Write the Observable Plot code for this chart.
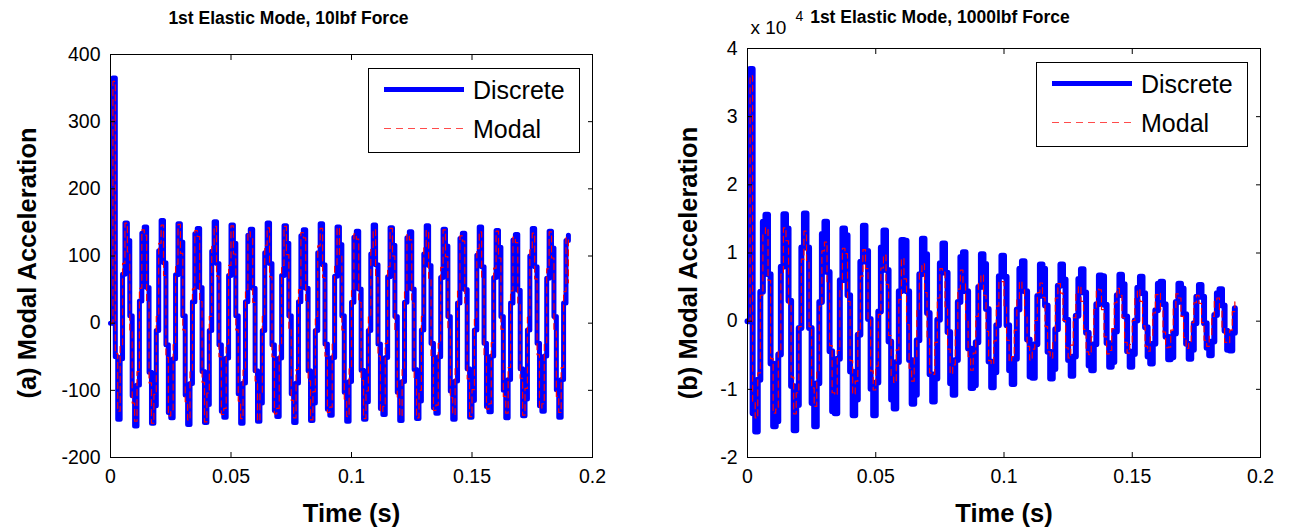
<!DOCTYPE html>
<html>
<head>
<meta charset="utf-8">
<script src="https://cdn.jsdelivr.net/npm/d3@7"></script>
<script src="https://cdn.jsdelivr.net/npm/@observablehq/plot@0.6"></script>
<style>
  html, body { margin: 0; padding: 0; background: #fff; }
  #chart { position: relative; width: 1291px; height: 531px; overflow: hidden; background: #fff; }
  .panel { position: absolute; top: 0; }
  .legend { position: absolute; background: #fff; border: 1px solid #000; box-sizing: border-box; }
  .legend svg { display: block; }
</style>
</head>
<body>
<div id="chart"></div>
<script>
// ---- data (sample step of the simulation output, seconds) ----
const timeStep = 0.001;

const xTicks = [0, 0.05, 0.1, 0.15, 0.2];
const yTicksA = [-200, -100, 0, 100, 200, 300, 400];
const yTicksB = [-2, -1, 0, 1, 2, 3, 4];

const titleA = "1st Elastic Mode, 10lbf Force";
const titleB = "1st Elastic Mode, 1000lbf Force";
const ylabelA = "(a) Modal Acceleration";
const ylabelB = "(b) Modal Acceleration";
const xlabel = "Time (s)";
const seriesNames = ["Discrete", "Modal"];

// panel (a): modal acceleration, 10 lbf force
const leftDiscrete = [
  0, 365, -50, -143, -53, 73, 149, 123, 11, -108, -153, -92, 33, 134, 143, 53, -73, -149, -123, -11, 108, 153,
  90, -32, -133, -141, -53, 72, 148, 121, 11, -107, -151, -90, 32, 133, 141, 53, -72, -148, -121, -11, 107, 151,
  89, -32, -131, -140, -52, 71, 146, 119, 11, -105, -149, -89, 32, 131, 140, 52, -71, -146, -119, -11, 105, 149,
  89, -32, -130, -139, -52, 71, 145, 119, 11, -105, -148, -89, 32, 130, 139, 52, -71, -145, -119, -11, 105, 148,
  87, -31, -128, -137, -51, 70, 143, 117, 11, -103, -146, -87, 31, 128, 137, 51, -70, -143, -117, -11, 103, 146,
  87, -31, -127, -136, -51, 69, 142, 116, 10, -103, -145, -87, 31, 127, 136, 51, -69, -142, -116, -10, 103, 145,
  86, -30, -126, -134, -50, 68, 140, 115, 10, -101, -143, -86, 30, 126, 134, 50, -68, -140, -115, -10, 101, 143,
  84, -30, -124, -132, -49, 68, 138, 113, 10, -100, -141, -84, 30, 124, 132, 49, -68, -138, -113, -10, 100, 141,
  84, -30, -123, -131, -49, 67, 137, 112, 10, -99, -140, -84, 30, 123, 131
];
const leftModal = [
  0, 360, -45, -131, -32, 89, 149, 106, -10, -119, -146, -72, 52, 139, 131, 32, -89, -149, -106, 10, 119, 146,
  71, -51, -138, -129, -32, 88, 147, 104, -10, -117, -144, -71, 51, 138, 129, 32, -88, -147, -104, 10, 117, 144,
  70, -50, -136, -127, -31, 86, 145, 103, -10, -116, -142, -70, 50, 136, 127, 31, -86, -145, -103, 10, 116, 142,
  69, -50, -135, -127, -31, 86, 144, 102, -10, -115, -141, -69, 50, 135, 127, 31, -86, -144, -102, 10, 115, 141,
  68, -49, -133, -125, -31, 85, 142, 101, -10, -113, -139, -68, 49, 133, 125, 31, -85, -142, -101, 10, 113, 139,
  68, -49, -132, -124, -30, 84, 141, 100, -10, -113, -138, -68, 49, 132, 124, 30, -84, -141, -100, 10, 113, 138,
  67, -48, -130, -122, -30, 83, 139, 99, -9, -111, -136, -67, 48, 130, 122, 30, -83, -139, -99, 9, 111, 136,
  66, -48, -128, -120, -29, 82, 137, 97, -9, -109, -134, -66, 48, 128, 120, 29, -82, -137, -97, 9, 109, 134,
  66, -47, -127, -120, -29, 81, 136, 97, -9, -109, -133, -66, 47, 127, 60
];

// panel (b): modal acceleration, 1000 lbf force, in units of 10^4
const rightDiscrete = [
  0, 3.7, -1.35, -1.62, -0.86, 0.43, 1.46, 1.56, 0.69, -0.62,
  -1.54, -1.47, -0.49, 0.80, 1.57, 1.36, 0.30, -0.95, -1.60, -1.23,
  -0.10, 1.08, 1.58, 1.08, -0.10, -1.20, -1.54, -0.91, 0.28, 1.28,
  1.46, 0.72, -0.44, -1.32, -1.35, -0.55, 0.60, 1.36, 1.26, 0.38,
  -0.74, -1.38, -1.15, -0.20, 0.87, 1.40, 1.03, 0.03, -0.99, -1.38,
  -0.90, 0.14, 1.08, 1.33, 0.75, -0.30, -1.15, -1.28, -0.60, 0.44,
  1.19, 1.18, 0.44, -0.57, -1.21, -1.08, -0.28, 0.69, 1.21, 0.98,
  0.12, -0.78, -1.18, -0.84, 0.02, 0.85, 1.14, 0.71, -0.16, -0.91,
  -1.08, -0.57, 0.28, 0.94, 1.01, 0.44, -0.40, -0.98, -0.94, -0.31,
  0.50, 0.98, 0.84, 0.18, -0.59, -0.97, -0.75, -0.06, 0.66, 0.96,
  0.65, -0.06, -0.72, -0.92, -0.55, 0.17, 0.77, 0.88, 0.44, -0.27,
  -0.81, -0.83, -0.34, 0.37, 0.83, 0.77, 0.23, -0.45, -0.84, -0.70,
  -0.12, 0.52, 0.83, 0.61, 0.02, -0.57, -0.80, -0.52, 0.08, 0.62,
  0.76, 0.42, -0.17, -0.65, -0.72, -0.34, 0.25, 0.67, 0.66, 0.24,
  -0.32, -0.67, -0.60, -0.15, 0.38, 0.68, 0.54, 0.07, -0.44, -0.67,
  -0.48, 0.01, 0.49, 0.65, 0.41, -0.09, -0.52, -0.62, -0.33, 0.16,
  0.55, 0.58, 0.25, -0.23, -0.56, -0.53, -0.18, 0.28, 0.55, 0.48,
  0.10, -0.33, -0.55, -0.42, -0.03, 0.36, 0.53, 0.36, -0.03, -0.39,
  -0.50, -0.30, 0.09, 0.41, 0.47, 0.23, -0.14, -0.42, -0.43, -0.17,
  0.19
];
const rightModal = [
  0, 3.6, -1.19, -1.42, -0.76, 0.38, 1.28, 1.37, 0.60, -0.55,
  -1.35, -1.29, -0.43, 0.69, 1.37, 1.18, 0.25, -0.82, -1.36, -1.05,
  -0.08, 0.91, 1.32, 0.89, -0.08, -0.98, -1.25, -0.74, 0.22, 1.03,
  1.16, 0.58, -0.36, -1.05, -1.08, -0.43, 0.47, 1.07, 0.99, 0.29,
  -0.58, -1.07, -0.88, -0.15, 0.66, 1.05, 0.77, 0.02, -0.73, -1.01,
  -0.66, 0.10, 0.78, 0.97, 0.54, -0.21, -0.82, -0.90, -0.42, 0.32,
  0.92, 0.62, -0.05, -0.69, -0.88, -0.52, 0.16, 0.73, 0.84, 0.42,
  -0.26, -0.76, -0.78, -0.31, 0.34, 0.77, 0.72, 0.21, -0.41, -0.77,
  -0.64, -0.11, 0.47, 0.75, 0.56, 0.02, -0.52, -0.72, -0.47, 0.07,
  0.56, 0.68, 0.38, -0.15, -0.58, -0.63, -0.29, 0.22, 0.58, 0.58,
  0.21, -0.28, -0.59, -0.52, -0.13, 0.33, 0.58, 0.46, 0.06, -0.37,
  -0.57, -0.41, 0.01, 0.42, 0.56, 0.35, -0.08, -0.45, -0.54, -0.29,
  0.34, 0.55, 0.41, 0.01, -0.39, -0.54, -0.35, 0.05, 0.42, 0.51,
  0.29, -0.12, -0.45, -0.49, -0.23, 0.17, 0.47, 0.46, 0.17, -0.23,
  -0.48, -0.43, -0.11, 0.27, 0.48, 0.38, 0.05, -0.31, -0.47, -0.34,
  0.01, 0.35, 0.46, 0.29, -0.07, -0.37, -0.44, -0.23, 0.12, 0.39,
  0.41, 0.18, -0.16, -0.39, -0.38, -0.13, 0.20, 0.40, 0.34, 0.07,
  -0.24, -0.40, -0.30, -0.02, 0.27, 0.38, 0.26, -0.02, -0.28, -0.37,
  -0.21, 0.07, 0.30, 0.34, 0.17, -0.11, -0.31, -0.32, -0.13, 0.14,
  0.31
];

// ---- rendering ----
const FONT = "'Liberation Sans', Arial, Helvetica, sans-serif";
const BLUE = "#0000ff";
const RED = "#ff0000";

function rowsOf(discrete, modal) {
  return discrete.map((v, i) => ({ t: i * timeStep, discrete: v, modal: modal[i] }));
}

function panel(o) {
  const rows = rowsOf(o.discrete, o.modal);
  const marks = [
    Plot.line(rows, { x: "t", y: "discrete", curve: "step-after", stroke: BLUE, strokeWidth: o.blueWidth, strokeLinejoin: "round", strokeLinecap: "round" }),
    Plot.line(rows, { x: "t", y: "modal", curve: "step-after", stroke: RED, strokeWidth: 1.2, strokeDasharray: "6,4" }),
    Plot.frame({ stroke: "#000", strokeWidth: 1 }),
    Plot.axisX(xTicks, { anchor: "bottom", tickSize: -5, tickPadding: 17, tickFormat: d => String(d), label: null, fontSize: 19.5 }),
    Plot.axisX(xTicks, { anchor: "top", tickSize: -5, tickFormat: () => "", label: null }),
    Plot.axisY(o.yTicks, { anchor: "left", tickSize: -5, tickPadding: 15, tickFormat: d => String(d), label: null, fontSize: 19.5 }),
    Plot.axisY(o.yTicks, { anchor: "right", tickSize: -5, tickFormat: () => "", label: null }),
    Plot.text([o.title], { text: d => d, frameAnchor: "top", lineAnchor: "middle", textAnchor: "middle", dx: o.titleDx, dy: o.titleDy, fontWeight: "bold", fontSize: 17.5 }),
    Plot.text([xlabel], { text: d => d, frameAnchor: "bottom", lineAnchor: "middle", textAnchor: "middle", dy: 56, fontWeight: "bold", fontSize: 25.5 }),
    Plot.text([o.ylabel], { text: d => d, frameAnchor: "left", lineAnchor: "middle", textAnchor: "middle", rotate: -90, dx: o.ylabelDx, dy: o.ylabelDy, fontWeight: "bold", fontSize: 25.5 })
  ];
  if (o.exponent) {
    marks.push(Plot.text(["x 10"], { text: d => d, frameAnchor: "top-left", lineAnchor: "middle", textAnchor: "start", dx: 3, dy: -21, fontSize: 19 }));
    marks.push(Plot.text([o.exponent], { text: d => d, frameAnchor: "top-left", lineAnchor: "middle", textAnchor: "start", dx: 48, dy: -32, fontSize: 14 }));
  }
  return Plot.plot({
    width: o.width,
    height: 531,
    marginLeft: o.marginLeft,
    marginRight: o.marginRight,
    marginTop: o.marginTop,
    marginBottom: 74,
    style: { fontFamily: FONT, fontSize: "19px", color: "#000", background: "transparent", overflow: "visible" },
    x: { domain: [0, 0.2] },
    y: { domain: o.yDomain },
    marks
  });
}

function legend(left, top) {
  const w = 212, h = 85;
  const div = document.createElement("div");
  div.className = "legend";
  Object.assign(div.style, { left: left + "px", top: top + "px", width: w + "px", height: h + "px" });
  const svg = d3.create("svg").attr("width", w - 2).attr("height", h - 2)
    .style("font-family", FONT).style("font-size", "25px");
  const rowsY = [20.5, 59.5];
  svg.append("line").attr("x1", 15).attr("x2", 95).attr("y1", rowsY[0]).attr("y2", rowsY[0])
    .attr("stroke", BLUE).attr("stroke-width", 5);
  svg.append("line").attr("x1", 15).attr("x2", 95).attr("y1", rowsY[1]).attr("y2", rowsY[1])
    .attr("stroke", RED).attr("stroke-width", 1).attr("stroke-dasharray", "7,5").attr("opacity", 0.7);
  seriesNames.forEach((name, k) => {
    svg.append("text").attr("x", 104).attr("y", rowsY[k]).attr("dy", "0.36em").attr("fill", "#000").text(name);
  });
  div.appendChild(svg.node());
  return div;
}

const chart = document.getElementById("chart");

const pa = panel({
  discrete: leftDiscrete, modal: leftModal, blueWidth: 5,
  width: 640, marginLeft: 110, marginRight: 48, marginTop: 54,
  yDomain: [-200, 400], yTicks: yTicksA,
  title: titleA, titleDx: -63, titleDy: -36,
  ylabel: ylabelA, ylabelDx: -83, ylabelDy: 7
});
pa.classList.add("panel");
pa.style.left = "0px";
chart.appendChild(pa);

const pb = panel({
  discrete: rightDiscrete, modal: rightModal, blueWidth: 6,
  width: 651, marginLeft: 107, marginRight: 31, marginTop: 48,
  yDomain: [-2, 4], yTicks: yTicksB,
  title: titleB, titleDx: -64, titleDy: -31,
  ylabel: ylabelB, ylabelDx: -59, ylabelDy: 10,
  exponent: "4"
});
pb.classList.add("panel");
pb.style.left = "640px";
chart.appendChild(pb);

chart.appendChild(legend(368, 68));
chart.appendChild(legend(1036, 62));
</script>
</body>
</html>
